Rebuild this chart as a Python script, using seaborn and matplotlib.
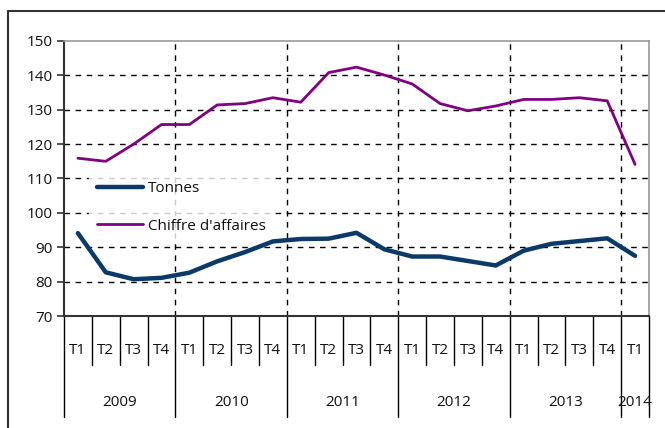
import numpy as np
import pandas as pd
import matplotlib
matplotlib.use('Agg')
import matplotlib.pyplot as plt
import seaborn as sns
from matplotlib.lines import Line2D
from matplotlib.transforms import blended_transform_factory

sns.set_style('white')
plt.rcParams['font.family'] = ['Liberation Sans Narrow', 'Open Sans', 'DejaVu Sans']
plt.rcParams['text.color'] = '#111111'
plt.rcParams['ytick.labelcolor'] = '#111111'

years = ['2009', '2010', '2011', '2012', '2013', '2014']
quarters = ['T1', 'T2', 'T3', 'T4'] * 5 + ['T1']

tonnes = [94.1, 82.7, 80.7, 81.1, 82.6, 85.9, 88.6, 91.7, 92.4, 92.5, 94.2,
          89.4, 87.3, 87.3, 86.0, 84.7, 89.0, 91.0, 91.8, 92.6, 87.5]
chiffre = [115.9, 115.0, 120.0, 125.7, 125.7, 131.4, 131.8, 133.5, 132.2, 140.8, 142.4,
           140.1, 137.5, 131.8, 129.7, 131.1, 133.0, 133.0, 133.5, 132.6, 114.1]

n = len(quarters)
df = pd.DataFrame({
    'idx': list(range(n)) * 2,
    'valeur': tonnes + chiffre,
    'serie': ['Tonnes'] * n + ["Chiffre d'affaires"] * n,
})

navy = '#0b3a68'
purple = '#800080'

fig = plt.figure(figsize=(6.65, 4.28), dpi=100)
ax = fig.add_axes([64 / 665, 1 - 316 / 428, 585 / 665, 275 / 428])

sns.lineplot(data=df[df.serie == "Chiffre d'affaires"], x='idx', y='valeur',
             color=purple, lw=2.0, ax=ax, legend=False, zorder=3)
sns.lineplot(data=df[df.serie == 'Tonnes'], x='idx', y='valeur',
             color=navy, lw=3.2, ax=ax, legend=False, zorder=4)

ax.set_xlim(-0.5, n - 0.5)
ax.set_ylim(70, 150)
ax.set_yticks(range(70, 151, 10))
ax.set_xticks(range(n))
ax.set_xticklabels([])
ax.tick_params(axis='x', length=0)
ax.tick_params(axis='y', length=5, width=1.2, color='#333333', direction='out',
               left=True, labelsize=11, pad=3)
ax.set_xlabel('')
ax.set_ylabel('')

# dashed grid
for v in range(80, 150, 10):
    ax.axhline(v, color='black', lw=1, ls=(0, (4, 4)), zorder=1)
for b in range(4, n, 4):
    ax.axvline(b - 0.5, color='black', lw=1, ls=(0, (4, 4)), zorder=1)

for s in ['top', 'right']:
    ax.spines[s].set_color('#999999')
    ax.spines[s].set_linewidth(1.2)
for s in ['left', 'bottom']:
    ax.spines[s].set_color('#333333')
    ax.spines[s].set_linewidth(1.5)

# category axis with two levels
tr = blended_transform_factory(ax.transData, ax.transAxes)
for i in range(n + 1):
    pos = i - 0.5
    bottom = -101 / 275 if (i % 4 == 0 or i == n) else -49 / 275
    ax.plot([pos, pos], [0, bottom], color='black', lw=1, transform=tr, clip_on=False)
for i, q in enumerate(quarters):
    ax.text(i, -34 / 275, q, transform=tr, ha='center', va='center', fontsize=11)
for k, y in enumerate(years):
    start = 4 * k
    end = min(start + 4, n)
    ax.text((start + end - 1) / 2, -86 / 275, y, transform=tr, ha='center', va='center',
            fontsize=11)

# legend
handles = [Line2D([], [], color=navy, lw=3.2), Line2D([], [], color=purple, lw=2.0)]
leg = ax.legend(handles, ['Tonnes', "Chiffre d'affaires"], loc='upper left',
                bbox_to_anchor=(0.03, 0.545), frameon=True, fontsize=11,
                handlelength=3.0, handletextpad=0.35, labelspacing=1.45,
                borderpad=0.5, fancybox=False)
leg.get_frame().set_facecolor('white')
leg.get_frame().set_edgecolor('white')
leg.set_zorder(2)

# outer frame
fig.add_artist(Line2D([8 / 665, 1], [1 - 11 / 428, 1 - 11 / 428], color='#333333', lw=1.5))
fig.add_artist(Line2D([8 / 665, 8 / 665], [0, 1 - 11 / 428], color='#333333', lw=1.5))

fig.savefig('out.png', dpi=100)
